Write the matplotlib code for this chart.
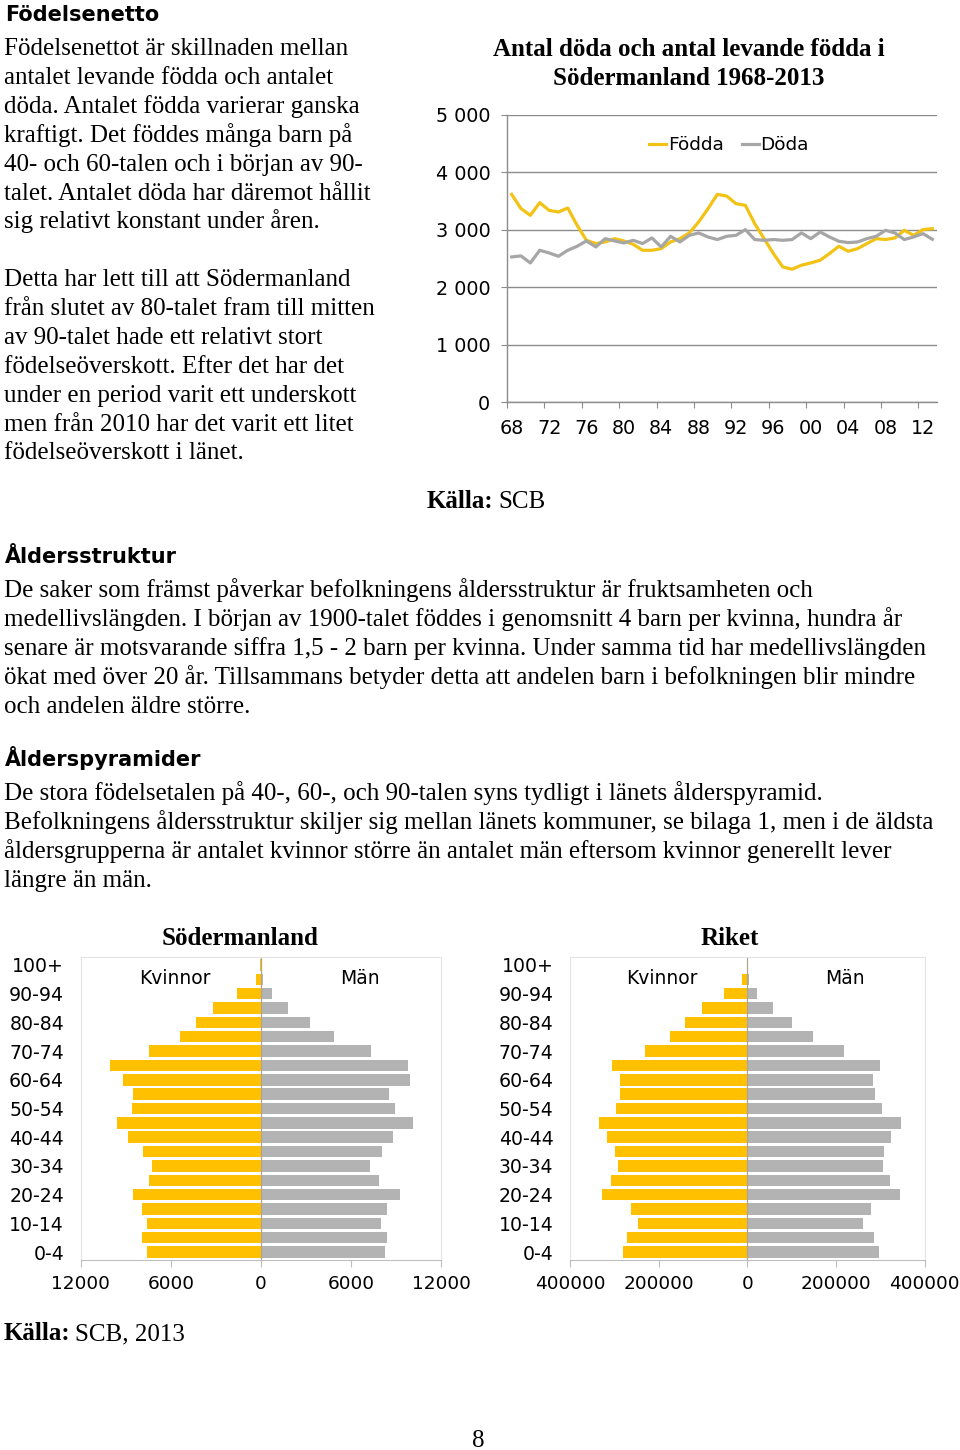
import matplotlib
matplotlib.use("Agg")
import matplotlib.pyplot as plt
import numpy as np

# ---------------- data ----------------
years = list(range(1968, 2014))
year_labels = ["68", "72", "76", "80", "84", "88", "92", "96", "00", "04", "08", "12"]
fodda = [3617, 3368, 3252, 3473, 3339, 3310, 3380, 3078, 2817, 2760,
         2788, 2846, 2806, 2748, 2643, 2643, 2672, 2788, 2846, 2945,
         3136, 3368, 3617, 3588, 3455, 3426, 3107, 2846, 2586, 2353,
         2313, 2383, 2423, 2470, 2586, 2713, 2626, 2672, 2760, 2846,
         2830, 2858, 2991, 2904, 3003, 3020]
doda = [2527, 2545, 2423, 2643, 2597, 2539, 2643, 2713, 2806, 2701,
        2846, 2806, 2771, 2817, 2760, 2858, 2701, 2887, 2788, 2904,
        2945, 2875, 2830, 2887, 2904, 3003, 2830, 2817, 2830, 2817,
        2830, 2945, 2846, 2962, 2875, 2800, 2777, 2788, 2846, 2887,
        2991, 2945, 2830, 2875, 2933, 2835]
y_ticks_line = [0, 1000, 2000, 3000, 4000, 5000]
y_ticklabels_line = ["0", "1 000", "2 000", "3 000", "4 000", "5 000"]

age_groups = ["0-4", "5-9", "10-14", "15-19", "20-24", "25-29", "30-34",
              "35-39", "40-44", "45-49", "50-54", "55-59", "60-64", "65-69",
              "70-74", "75-79", "80-84", "85-89", "90-94", "95-99", "100+"]
sod_kvinnor = [7600, 7911, 7578, 7911, 8533, 7444, 7267, 7844, 8867, 9578,
               8578, 8489, 9200, 10067, 7444, 5400, 4311, 3200, 1578, 333, 40]
sod_man = [8244, 8400, 7978, 8378, 9244, 7889, 7289, 8044, 8778, 10111,
           8911, 8556, 9911, 9822, 7311, 4867, 3244, 1822, 733, 133, 10]
rik_kvinnor = [281200, 271400, 247400, 262400, 327800, 307500, 292500, 298500,
               316500, 334600, 296200, 286500, 286500, 304500, 230100, 173700,
               140600, 102300, 51900, 12800, 1500]
rik_man = [296200, 285700, 260900, 279700, 343600, 321800, 306000, 309000,
           324100, 345900, 303800, 288700, 284200, 298500, 218000, 148100,
           100800, 58600, 22600, 3800, 300]
sod_ticks = [-12000, -6000, 0, 6000, 12000]
rik_ticks = [-400000, -200000, 0, 200000, 400000]

# ---------------- style ----------------
W, H = 960, 1450
SERIF = "Liberation Serif"
SANS = "DejaVu Sans"
YEL_LINE = "#F2C314"
GRAY_LINE = "#A6A6A6"
YEL_BAR = "#FFC000"
GRAY_BAR = "#B3B3B3"
BODY = 18.0
HEAD = 15.0

fig = plt.figure(figsize=(W / 100, H / 100), dpi=100)
fig.patch.set_facecolor("white")


def fx(x):
    return x / W


def fy(y):
    return 1 - y / H


def txt(x, y, s, size=BODY, family=SERIF, weight="normal", ha="left", va="baseline"):
    fig.text(fx(x), fy(y), s, fontsize=size, family=family, weight=weight,
             ha=ha, va=va, color="black")


def axes_px(x0, x1, y0, y1):
    return fig.add_axes([fx(x0), fy(y1), (x1 - x0) / W, (y1 - y0) / H])


# ---------------- texts ----------------
txt(5, 21, "Födelsenetto", size=HEAD, family=SANS, weight="bold")
left1 = ["Födelsenettot är skillnaden mellan",
         "antalet levande födda och antalet",
         "döda. Antalet födda varierar ganska",
         "kraftigt. Det föddes många barn på",
         "40- och 60-talen och i början av 90-",
         "talet. Antalet döda har däremot hållit",
         "sig relativt konstant under åren."]
for i, s in enumerate(left1):
    txt(4, 55 + 28.9 * i, s)
left2 = ["Detta har lett till att Södermanland",
         "från slutet av 80-talet fram till mitten",
         "av 90-talet hade ett relativt stort",
         "födelseöverskott. Efter det har det",
         "under en period varit ett underskott",
         "men från 2010 har det varit ett litet",
         "födelseöverskott i länet."]
for i, s in enumerate(left2):
    txt(4, 286 + 28.9 * i, s)

txt(689, 56, "Antal döda och antal levande födda i", weight="bold", ha="center")
txt(689, 85, "Södermanland 1968-2013", weight="bold", ha="center")

txt(427, 508, "Källa:", weight="bold")
txt(498, 508, "SCB")

txt(5, 563, "Åldersstruktur", size=HEAD, family=SANS, weight="bold")
para1 = ["De saker som främst påverkar befolkningens åldersstruktur är fruktsamheten och",
         "medellivslängden. I början av 1900-talet föddes i genomsnitt 4 barn per kvinna, hundra år",
         "senare är motsvarande siffra 1,5 - 2 barn per kvinna. Under samma tid har medellivslängden",
         "ökat med över 20 år. Tillsammans betyder detta att andelen barn i befolkningen blir mindre",
         "och andelen äldre större."]
for i, s in enumerate(para1):
    txt(4, 597 + 28.9 * i, s)

txt(5, 766, "Ålderspyramider", size=HEAD, family=SANS, weight="bold")
para2 = ["De stora födelsetalen på 40-, 60-, och 90-talen syns tydligt i länets ålderspyramid.",
         "Befolkningens åldersstruktur skiljer sig mellan länets kommuner, se bilaga 1, men i de äldsta",
         "åldersgrupperna är antalet kvinnor större än antalet män eftersom kvinnor generellt lever",
         "längre än män."]
for i, s in enumerate(para2):
    txt(4, 800 + 28.9 * i, s)

txt(240, 945, "Södermanland", weight="bold", ha="center")
txt(730, 945, "Riket", weight="bold", ha="center")

txt(4, 1340, "Källa:", weight="bold")
txt(75, 1340, "SCB, 2013")
txt(478, 1441, "8", ha="center", va="center")

# ---------------- line chart ----------------
ax = axes_px(507, 937, 115, 402)
x = np.arange(len(years))
ax.plot(x, fodda, color=YEL_LINE, lw=2.3, label="Födda", solid_joinstyle="round")
ax.plot(x, doda, color=GRAY_LINE, lw=2.3, label="Döda", solid_joinstyle="round")
ax.set_xlim(-0.5, len(years) - 0.5)
ax.set_ylim(0, 5000)
ax.set_yticks(y_ticks_line)
ax.set_yticklabels(y_ticklabels_line, family=SANS, fontsize=13.8)
ax.yaxis.grid(True, color="#8C8C8C", lw=1.0)
ax.set_axisbelow(True)
for sp in ["top", "right"]:
    ax.spines[sp].set_visible(False)
for sp in ["left", "bottom"]:
    ax.spines[sp].set_color("#8C8C8C")
    ax.spines[sp].set_linewidth(1.0)
ax.tick_params(axis="y", length=4, color="#8C8C8C", pad=8)
# tick marks between categories, labels every fourth year
ax.set_xticks(np.arange(-0.5, len(years) - 1, 4))
ax.set_xticks(np.arange(0, len(years), 4), minor=True)
ax.set_xticklabels([])
ax.set_xticklabels(year_labels, minor=True, family=SANS, fontsize=13.8)
ax.tick_params(axis="x", which="major", length=4, color="#8C8C8C")
ax.tick_params(axis="x", which="minor", length=0, pad=12)
leg = ax.legend(loc="center", bbox_to_anchor=((729 - 507) / 430, 0.895), ncol=2,
                frameon=False, prop={"family": SANS, "size": 13.3},
                handlelength=0.9, handletextpad=0.1, columnspacing=1.0)

# ---------------- pyramids ----------------
def pyramid(x0, x1, women, men, ticks, labels_x):
    a = axes_px(x0, x1, 957, 1260)
    pos = np.arange(len(age_groups))
    a.barh(pos, -np.array(women), height=0.8, color=YEL_BAR, linewidth=0)
    a.barh(pos, men, height=0.8, color=GRAY_BAR, linewidth=0)
    a.set_ylim(-0.55, len(age_groups) - 0.45)
    a.set_xlim(ticks[0], ticks[-1])
    a.axvline(0, color="#B0A48C", lw=0.9)
    a.set_yticks(pos[::2])
    a.set_yticklabels(age_groups[::2], family=SANS, fontsize=13.6)
    a.tick_params(axis="y", length=0, pad=12)
    a.set_xticks(ticks)
    a.set_xticklabels(labels_x, family=SANS, fontsize=13.3)
    a.tick_params(axis="x", length=5, color="#BFBFBF", pad=6)
    for sp in ["top", "right", "left"]:
        a.spines[sp].set_color("#E3E3E3")
        a.spines[sp].set_linewidth(0.8)
    a.spines["bottom"].set_color("#BFBFBF")
    a.text(-0.48 * ticks[-1], 19.05, "Kvinnor", family=SANS, fontsize=13.5,
           ha="center", va="center")
    a.text(0.55 * ticks[-1], 19.05, "Män", family=SANS, fontsize=13.5,
           ha="center", va="center")
    return a


pyramid(80.7, 441, sod_kvinnor, sod_man, sod_ticks,
        [str(abs(t)) for t in sod_ticks])
pyramid(570, 924.7, rik_kvinnor, rik_man, rik_ticks,
        [str(abs(t)) for t in rik_ticks])

fig.savefig("out.png", dpi=100, facecolor="white")
